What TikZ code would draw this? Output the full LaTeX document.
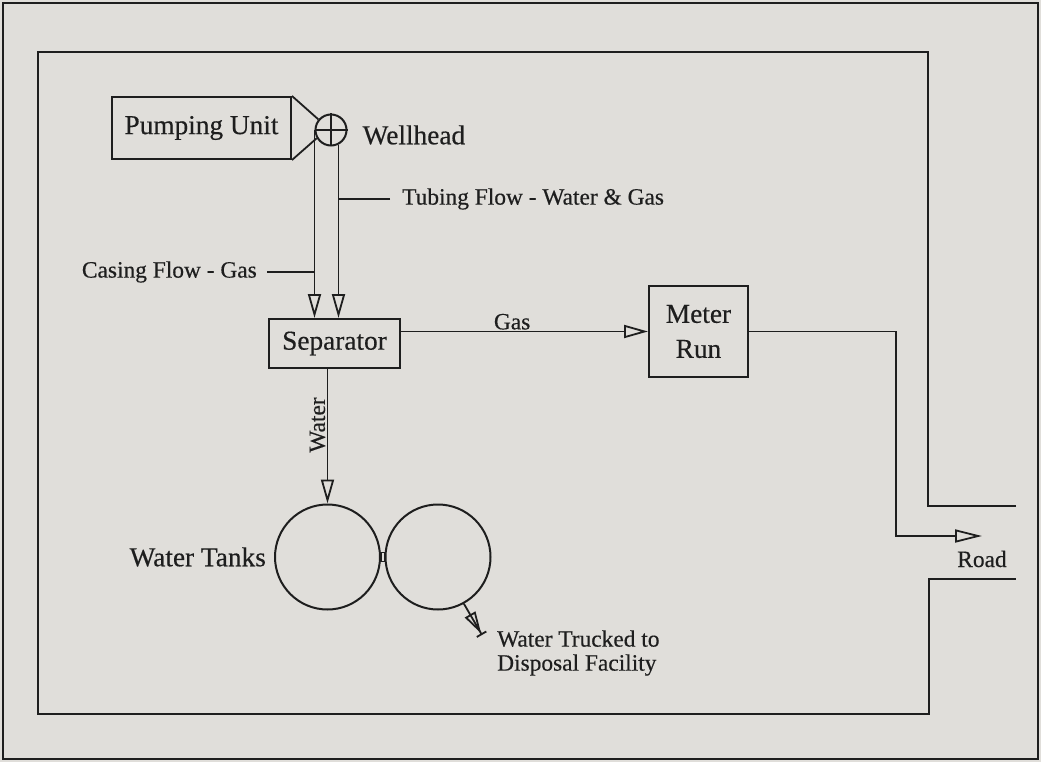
\documentclass[tikz,border=0pt]{standalone}
\usepackage{fontspec}
\setmainfont{Liberation Serif}[FakeBold=0.4]
\usetikzlibrary{arrows.meta, positioning}
\definecolor{scanPaper}{RGB}{224,222,218}
\definecolor{scanInk}{RGB}{30,30,30}
\tikzset{
  bigText/.style={font=\fontsize{27.3}{35}\selectfont},
  smallText/.style={font=\fontsize{23.4}{24}\selectfont},
  unit/.style={draw=scanInk, line width=2pt, rectangle, inner sep=0pt, bigText},
  tank/.style={draw=scanInk, line width=2pt, circle, inner sep=0pt, minimum size=105pt},
  pipe/.style={draw=scanInk, line width=1.8pt},
  flow/.style={pipe, -{Triangle[open, length=24pt, width=13pt]}},
}

\begin{document}
\begin{tikzpicture}[x=1pt, y=-1pt, scanInk]
\fill[scanPaper] (0,0) rectangle (1041,762);
\useasboundingbox (0,0) rectangle (1041,762);
\draw[line width=2pt] (3,3) rectangle (1038,759);
% site boundary, open where the road comes in
\draw[line width=2.4pt] (1016,506) -- (928,506) -- (928,52) -- (38,52) -- (38,714) -- (929,714) -- (929,579) -- (1016,579);

\node[unit, minimum width=179pt, minimum height=62pt] (pump) at (201.5,128) {Pumping Unit};
\node[draw=scanInk, line width=2pt, circle, minimum size=31pt, inner sep=0pt] (well) at (331,130) {};
\draw[line width=1.8pt] (well.north) -- (well.south) (well.west) -- (well.east);
\node[bigText, right=13pt of well, inner sep=2pt, yshift=-5pt] (wellLbl) {Wellhead};
\draw[line width=1.8pt] (pump.north east) -- (well.140) (pump.south east) -- (well.210);

\node[unit, minimum width=131pt, minimum height=49pt] (sep) at (334.5,343.5) {Separator};
\node[unit, minimum width=99pt, minimum height=91pt, align=center] (meter) at (698.5,331.5) {Meter\\Run};
\node[tank] (tankA) at (327.5,557) {};
\node[tank] (tankB) at (438,557) {};
\node[bigText, left=6pt of tankA, inner sep=2pt] (tankLbl) {Water Tanks};

% casing and tubing lines
\draw[flow] (well.west) -- (well.west |- sep.north);
\draw[flow] (well.-63) -- (well.-63 |- sep.north);
\node[smallText, anchor=west, inner xsep=12pt, inner ysep=0pt] (tubing) at (390,199) {Tubing Flow - Water \& Gas};
\draw[pipe] (tubing.west) -- (tubing.west -| well.-63);
\node[smallText, anchor=east, inner xsep=10pt, inner ysep=0pt] (casing) at (267,272) {Casing Flow - Gas};
\draw[pipe] (casing.east) -- (casing.east -| well.west);

\draw[flow] (sep.east |- meter.west) -- node[smallText, above, inner sep=1pt, pos=0.45] (gasLbl) {Gas} (meter.west);
\draw[flow] (tankA.north |- sep.south) -- (tankA.north);
\node[smallText, rotate=90, anchor=south, inner sep=2pt] (waterLbl) at (327.5,425) {Water};
\draw[line width=1.6pt] ([yshift=4.5pt]tankA.east) rectangle ([yshift=-4.5pt]tankB.west);

\coordinate (truckEnd) at (482,635);
\draw[pipe, -{Triangle[open, length=22pt, width=12pt] Bar[width=11pt]}] (tankB.-61) -- (truckEnd);
\node[smallText, align=left, anchor=west, inner sep=0pt] (truckLbl) at (497,653) {Water Trucked to\\Disposal Facility};

\coordinate (roadBend) at (896,536);
\coordinate (roadEnd) at (982,536);
\draw[pipe, -{Triangle[open, length=27pt, width=13pt]}] (meter.east) -| (roadBend) -- (roadEnd);
\node[smallText, inner sep=0pt] (road) at (982,559) {Road};
\end{tikzpicture}
\end{document}
